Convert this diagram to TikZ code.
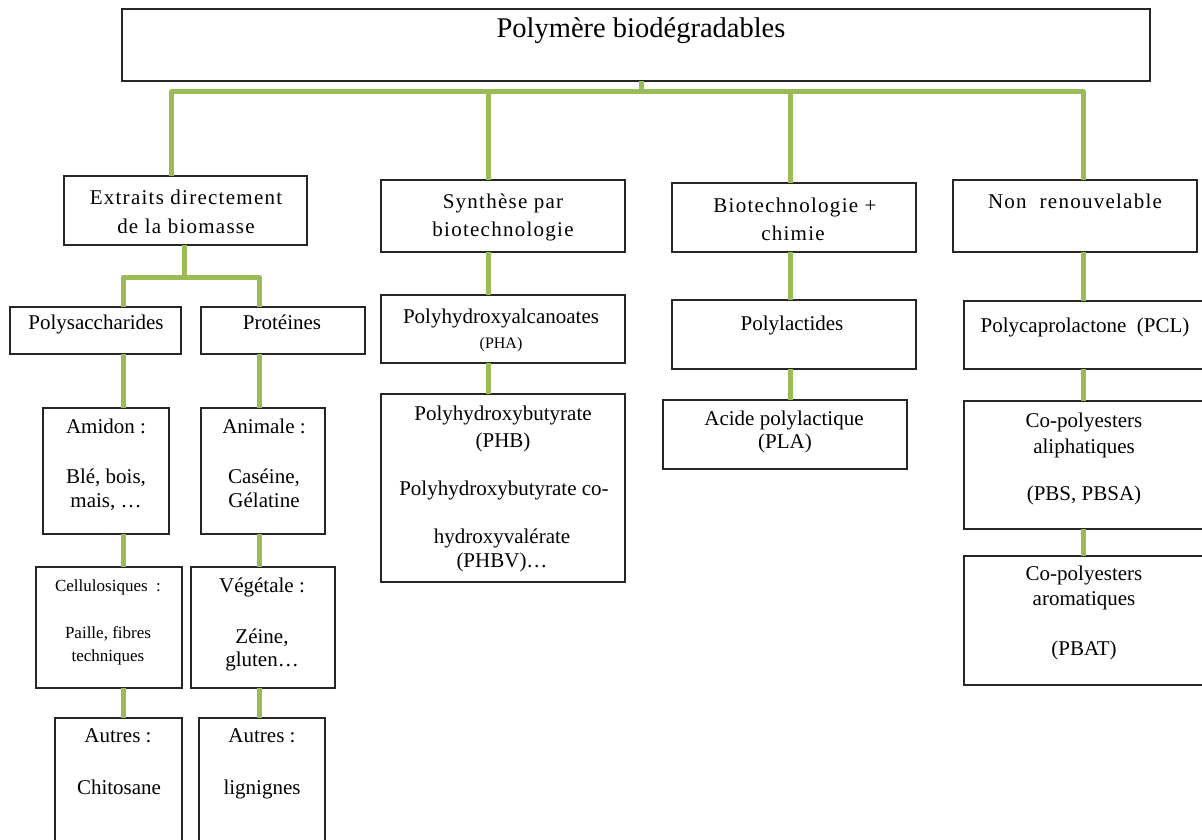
\documentclass[tikz,border=0pt]{standalone}
\usepackage{fontspec}
\setmainfont{Liberation Serif}
\definecolor{linegreen}{RGB}{155,187,89}
\newcommand\mkbox[5]{\node[boxnode, minimum width={(#4)-(#2)}, minimum height={(#5)-(#3)}] (#1) at (#2,#3) {};}
\newcommand\txtline[4]{\node[txt] (#1) at (#2,#3) {#4};}
\newcommand\wideline[4]{\node[txt, font=\fontsize{21}{25}\selectfont\addfontfeature{LetterSpace=6}] (#1) at (#2,#3) {#4};}
\newcommand\smallline[4]{\node[txt, font=\fontsize{17}{20}\selectfont] (#1) at (#2,#3) {#4};}
\begin{document}
\begin{tikzpicture}[x=1pt,y=-1pt,
  boxnode/.style={draw=black!85, line width=1.4pt, fill=white, anchor=north west, inner sep=0pt, outer sep=0pt},
  conn/.style={draw=linegreen, line width=5pt, line join=round},
  txt/.style={anchor=base, inner sep=0pt, font=\fontsize{21}{25}\selectfont}]
\useasboundingbox (0,0) rectangle (1202,840);
\clip (0,0) rectangle (1202,840);
\fill[white] (0,0) rectangle (1202,840);
% boxes
\mkbox{title}{122}{9}{1150}{81}
\mkbox{A}{64}{176}{307}{245}
\mkbox{B}{381}{180}{625}{252}
\mkbox{C}{672}{183}{916}{252}
\mkbox{D}{953}{180}{1197}{252}
\mkbox{poly}{10}{307}{181}{354}
\mkbox{prot}{201}{307}{365}{354}
\mkbox{amidon}{43}{408}{169}{534}
\mkbox{animale}{201}{408}{325}{534}
\mkbox{cellu}{36}{567}{182}{688}
\mkbox{vege}{191}{567}{335}{688}
\mkbox{autresA}{55}{718}{182}{860}
\mkbox{autresB}{199}{718}{325}{860}
\mkbox{pha}{381}{295}{625}{363}
\mkbox{phb}{381}{394}{625}{582}
\mkbox{polylac}{672}{300}{916}{369}
\mkbox{pla}{663}{400}{907}{469}
\mkbox{pcl}{964}{301}{1208}{369}
\mkbox{aliph}{964}{401}{1208}{529}
\mkbox{arom}{964}{556}{1208}{685}
% column coordinates
\coordinate (bus) at (641,92);
\coordinate (busL) at (171,92);
\coordinate (busR) at (1083,92);
\coordinate (colA) at (184,0);
\coordinate (colP) at (123,0);
\coordinate (colQ) at (259,0);
\coordinate (colB) at (488,0);
\coordinate (colC) at (790,0);
\coordinate (colD) at (1083,0);
\coordinate (forkA) at (184,277);
% connectors
\draw[conn] (title.south -| bus) -- (bus);
\draw[conn] (A.north -| busL) -- (busL) -- (busR) -- (D.north -| busR);
\draw[conn] (colB |- bus) -- (B.north -| colB);
\draw[conn] (colC |- bus) -- (C.north -| colC);
\draw[conn] (A.south -| colA) -- (forkA);
\draw[conn] (poly.north -| colP) -- (colP |- forkA) -- (colQ |- forkA) -- (prot.north -| colQ);
\draw[conn] (poly.south -| colP) -- (amidon.north -| colP);
\draw[conn] (amidon.south -| colP) -- (cellu.north -| colP);
\draw[conn] (cellu.south -| colP) -- (autresA.north -| colP);
\draw[conn] (prot.south -| colQ) -- (animale.north -| colQ);
\draw[conn] (animale.south -| colQ) -- (vege.north -| colQ);
\draw[conn] (vege.south -| colQ) -- (autresB.north -| colQ);
\draw[conn] (B.south -| colB) -- (pha.north -| colB);
\draw[conn] (pha.south -| colB) -- (phb.north -| colB);
\draw[conn] (C.south -| colC) -- (polylac.north -| colC);
\draw[conn] (polylac.south -| colC) -- (pla.north -| colC);
\draw[conn] (D.south -| colD) -- (pcl.north -| colD);
\draw[conn] (pcl.south -| colD) -- (aliph.north -| colD);
\draw[conn] (aliph.south -| colD) -- (arom.north -| colD);
% texts
\node[txt, font=\fontsize{28.5}{33}\selectfont] (title-t) at (641,38) {Polymère biodégradables};
\wideline{A-t1}{186}{204}{Extraits directement}
\wideline{A-t2}{186}{233}{de la biomasse}
\txtline{poly-t}{96}{329}{Polysaccharides}
\txtline{prot-t}{282}{329}{Protéines}
\txtline{amidon-t1}{106}{433}{Amidon :}
\txtline{amidon-t2}{106}{483}{Blé, bois,}
\txtline{amidon-t3}{106}{507}{mais, …}
\txtline{animale-t1}{264}{433}{Animale :}
\txtline{animale-t2}{264}{483}{Caséine,}
\txtline{animale-t3}{264}{507}{Gélatine}
\smallline{cellu-t1}{108}{591}{Cellulosiques\ \ :}
\smallline{cellu-t2}{108}{638}{Paille, fibres}
\smallline{cellu-t3}{108}{661}{techniques}
\txtline{vege-t1}{262}{592}{Végétale :}
\txtline{vege-t2}{262}{643}{Zéine,}
\txtline{vege-t3}{262}{666}{gluten…}
\txtline{autresA-t1}{118}{742}{Autres :}
\txtline{autresA-t2}{119}{794}{Chitosane}
\txtline{autresB-t1}{262}{742}{Autres :}
\txtline{autresB-t2}{262}{794}{lignignes}
\wideline{B-t1}{503}{208}{Synthèse par}
\wideline{B-t2}{503}{236}{biotechnologie}
\txtline{pha-t1}{501}{323}{Polyhydroxyalcanoates}
\node[txt, font=\fontsize{16}{19}\selectfont] (pha-t2) at (501,348) {(PHA)};
\txtline{phb-t1}{503}{420}{Polyhydroxybutyrate}
\txtline{phb-t2}{503}{447}{(PHB)}
\txtline{phb-t3}{504}{495}{Polyhydroxybutyrate co-}
\txtline{phb-t4}{502}{543}{hydroxyvalérate}
\txtline{phb-t5}{502}{567}{(PHBV)…}
\wideline{C-t1}{795}{212}{Biotechnologie +}
\wideline{C-t2}{793}{240}{chimie}
\txtline{polylac-t}{792}{330}{Polylactides}
\txtline{pla-t1}{784}{425}{Acide polylactique}
\txtline{pla-t2}{785}{448}{(PLA)}
\wideline{D-t}{1075}{208}{Non\ \ renouvelable}
\txtline{pcl-t}{1085}{332}{Polycaprolactone\ \ (PCL)}
\txtline{aliph-t1}{1084}{427}{Co-polyesters}
\txtline{aliph-t2}{1084}{453}{aliphatiques}
\txtline{aliph-t3}{1084}{500}{(PBS, PBSA)}
\txtline{arom-t1}{1084}{580}{Co-polyesters}
\txtline{arom-t2}{1084}{605}{aromatiques}
\txtline{arom-t3}{1084}{655}{(PBAT)}
\end{tikzpicture}
\end{document}
